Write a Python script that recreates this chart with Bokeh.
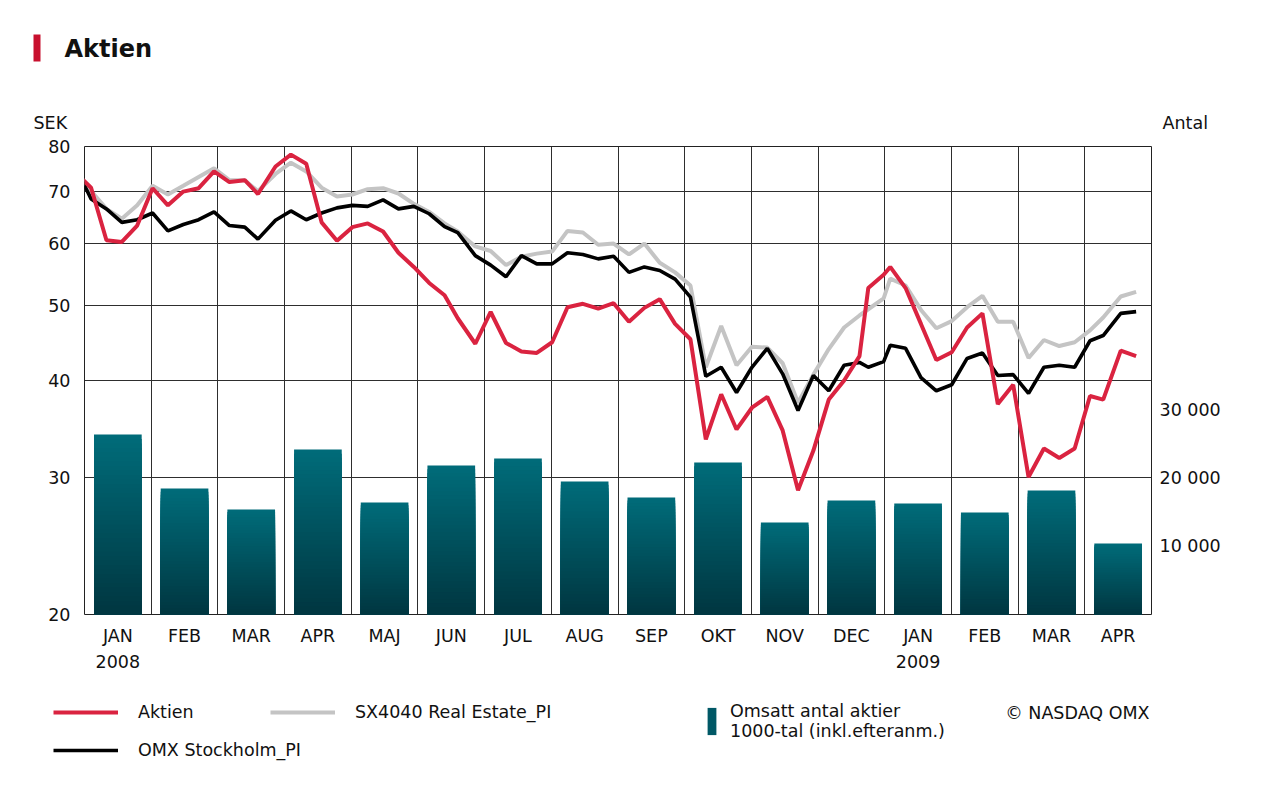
import numpy as np
import pandas as pd
from bokeh.plotting import figure
from bokeh.layouts import column
from bokeh.models import (Range1d, LinearAxis, LinearScale, FixedTicker, Label,
                          Legend, LegendItem, BoxAnnotation)
from bokeh.embed import file_html
from bokeh.resources import INLINE

# ---------------- data ----------------
dates = [
    "2007-12-31", "2008-01-04", "2008-01-11", "2008-01-18", "2008-01-25",
    "2008-02-01", "2008-02-08", "2008-02-15", "2008-02-22", "2008-02-29",
    "2008-03-07", "2008-03-14", "2008-03-20", "2008-03-28",
    "2008-04-04", "2008-04-11", "2008-04-18", "2008-04-25",
    "2008-05-02", "2008-05-09", "2008-05-16", "2008-05-23", "2008-05-30",
    "2008-06-06", "2008-06-13", "2008-06-19", "2008-06-27",
    "2008-07-04", "2008-07-11", "2008-07-18", "2008-07-25",
    "2008-08-01", "2008-08-08", "2008-08-15", "2008-08-22", "2008-08-29",
    "2008-09-05", "2008-09-12", "2008-09-19", "2008-09-26",
    "2008-10-03", "2008-10-10", "2008-10-17", "2008-10-24", "2008-10-31",
    "2008-11-07", "2008-11-14", "2008-11-21", "2008-11-28",
    "2008-12-05", "2008-12-12", "2008-12-19", "2008-12-23", "2008-12-30",
    "2009-01-02", "2009-01-09", "2009-01-16", "2009-01-23", "2009-01-30",
    "2009-02-06", "2009-02-13", "2009-02-20", "2009-02-27",
    "2009-03-06", "2009-03-13", "2009-03-20", "2009-03-27",
    "2009-04-03", "2009-04-09", "2009-04-17", "2009-04-24",
]

aktien = [
    72.6, 70.8, 60.6, 60.3, 63.3,
    70.7, 67.2, 70.0, 70.7, 74.3,
    72.0, 72.4, 69.5, 75.4,
    78.1, 76.0, 63.9, 60.5,
    63.0, 63.7, 62.2, 58.4, 56.0,
    53.4, 51.5, 48.1, 44.6,
    49.0, 44.7, 43.6, 43.4,
    44.8, 49.7, 50.2, 49.5, 50.3,
    47.6, 49.6, 50.9, 47.3,
    45.2, 33.6, 38.4, 34.6, 36.9,
    38.1, 34.5, 28.9, 32.5,
    37.8, 40.0, 43.0, 52.6, 54.7,
    56.0, 52.6, 47.3, 42.5, 43.5,
    46.8, 48.8, 37.3, 39.5,
    30.05, 32.7, 31.8, 32.7,
    38.2, 37.8, 43.7, 43.0,
]

sx4040 = [
    72.6, 70.1, 66.5, 64.6, 67.2,
    71.2, 69.4, 71.2, 73.1, 75.0,
    72.4, 72.4, 70.1, 73.75,
    76.25, 74.3, 70.8, 69.0,
    69.4, 70.5, 70.7, 69.6, 67.5,
    65.9, 63.7, 62.2, 59.5,
    58.7, 56.3, 57.7, 58.25,
    58.6, 62.3, 62.0, 59.8, 60.0,
    58.1, 60.0, 56.7, 55.1,
    53.0, 41.6, 47.0, 41.85, 44.2,
    44.1, 42.1, 37.45, 40.7,
    43.9, 46.8, 48.5, 49.4, 51.0,
    54.1, 53.0, 49.3, 46.7, 47.7,
    49.7, 51.4, 47.6, 47.6,
    42.75, 45.1, 44.3, 44.8,
    46.4, 48.2, 51.3, 52.0,
]

omx = [
    72.2, 68.5, 66.5, 63.9, 64.4,
    65.7, 62.3, 63.5, 64.4, 65.9,
    63.3, 63.0, 60.8, 64.3,
    66.1, 64.4, 65.7, 66.7,
    67.2, 67.0, 68.3, 66.5, 67.0,
    65.55, 63.1, 62.0, 57.9,
    56.3, 54.4, 57.9, 56.5,
    56.5, 58.4, 58.1, 57.35, 57.8,
    55.1, 56.0, 55.4, 54.0,
    51.2, 40.5, 41.6, 38.6, 41.6,
    44.0, 40.8, 36.6, 40.6,
    38.8, 41.85, 42.2, 41.6, 42.3,
    44.4, 44.0, 40.35, 38.8, 39.5,
    42.7, 43.4, 40.6, 40.7,
    38.5, 41.6, 41.85, 41.6,
    45.0, 45.7, 48.8, 49.05,
]

months = ["JAN", "FEB", "MAR", "APR", "MAJ", "JUN", "JUL", "AUG",
          "SEP", "OKT", "NOV", "DEC", "JAN", "FEB", "MAR", "APR"]
years = ["2008", "2009"]
year_month_index = [0, 12]

# monthly traded shares (thousands)
volume = [26350, 18440, 15370, 24150, 16400, 21810, 22840, 19470,
          17130, 22250, 13470, 16690, 16250, 14930, 18150, 10390]

left_ticks = [20, 30, 40, 50, 60, 70, 80]
right_ticks = [10000, 20000, 30000]
right_labels = ["10 000", "20 000", "30 000"]

# ---------------- style / layout ----------------
FONT = "DejaVu Sans"
FS = "17.5px"
TXT = "#111111"
RED = "#DA2340"
GRAY = "#C4C4C4"
BLACK = "#000000"
GRID = "#2e2e2e"
TEAL_MID = "#005866"

W = 1278
HEAD_H = 134          # header strip (title, unit labels)
MAIN_BOTTOM = 690     # page y where legend strip starts
LEG_H = 800 - MAIN_BOTTOM
L, R, T, B = 84, 1151, 146, 614   # plot frame in page pixels
NM = len(months)
VOL_MAX = 68500

t0 = pd.Timestamp("2008-01-01")
t1 = pd.Timestamp("2009-05-01")
span = (t1 - t0).days
xs = np.asarray((pd.to_datetime(dates) - t0).days, dtype=float) / span * NM

# ---------------- main chart ----------------
p = figure(width=W, height=MAIN_BOTTOM - HEAD_H, x_range=Range1d(0, NM),
           y_range=Range1d(20, 80), y_axis_type="log", output_backend="svg",
           toolbar_location=None, min_border_left=L, min_border_right=W - R,
           min_border_top=T - HEAD_H, min_border_bottom=MAIN_BOTTOM - B)
p.frame_align = False
p.background_fill_color = "white"
p.border_fill_color = "white"
p.outline_line_color = "#222222"
p.outline_line_width = 1

p.extra_y_ranges = {"vol": Range1d(0, VOL_MAX)}
p.extra_y_scales = {"vol": LinearScale()}

p.xgrid.ticker = FixedTicker(ticks=list(range(NM + 1)))
p.ygrid.ticker = FixedTicker(ticks=left_ticks)
for g in (p.xgrid[0], p.ygrid[0]):
    g.grid_line_color = GRID
    g.grid_line_width = 1


def style_axis(ax, standoff):
    ax.axis_line_color = None
    ax.major_tick_line_color = None
    ax.minor_tick_line_color = None
    ax.major_tick_out = 0
    ax.major_tick_in = 0
    ax.minor_tick_out = 0
    ax.minor_tick_in = 0
    ax.major_label_text_font = FONT
    ax.major_label_text_font_size = FS
    ax.major_label_text_color = TXT
    ax.major_label_standoff = standoff


ly = p.yaxis[0]
ly.ticker = FixedTicker(ticks=left_ticks)
ly.major_label_overrides = {v: str(v) for v in left_ticks}
style_axis(ly, 14)

bx = p.xaxis[0]
bx.ticker = FixedTicker(ticks=[i + 0.5 for i in range(NM)])
bx.major_label_overrides = {i + 0.5: m for i, m in enumerate(months)}
style_axis(bx, 11)

yr_ax = LinearAxis(ticker=FixedTicker(ticks=[i + 0.5 for i in year_month_index]),
                   major_label_overrides={i + 0.5: y for i, y in zip(year_month_index, years)})
style_axis(yr_ax, 6)
p.add_layout(yr_ax, "below")

ry = LinearAxis(y_range_name="vol", ticker=FixedTicker(ticks=right_ticks),
                major_label_overrides=dict(zip(right_ticks, right_labels)))
style_axis(ry, 8)
p.add_layout(ry, "right")

# bars with a vertical gradient (stacked, progressively shorter and darker)
N = 40
top_c = np.array([0, 108, 122])
bot_c = np.array([0, 54, 64])
bar_x, bar_top, bar_col = [], [], []
for j in range(N):
    f = 1 - j / N
    c = bot_c + (top_c - bot_c) * (f - 0.5 / N)
    col = "#%02x%02x%02x" % tuple(int(round(k)) for k in c)
    for i, v in enumerate(volume):
        bar_x.append(i + 0.5)
        bar_top.append(v * f)
        bar_col.append(col)
p.vbar(x=bar_x, bottom=0, top=bar_top, width=0.715, fill_color=bar_col,
       line_color=None, y_range_name="vol")

p.line(xs, sx4040, line_color=GRAY, line_width=4)
p.line(xs, omx, line_color=BLACK, line_width=3.6)
p.line(xs, aktien, line_color=RED, line_width=4)

# ---------------- header strip ----------------
head = figure(width=W, height=HEAD_H, x_range=Range1d(0, W), y_range=Range1d(HEAD_H, 0),
              output_backend="svg", toolbar_location=None, min_border=0,
              x_axis_location=None, y_axis_location=None)
head.frame_align = False
head.grid.visible = False
head.outline_line_color = None


def add_text(fig, x, y, text, align="left", size=FS, style="normal"):
    fig.add_layout(Label(x=x, y=y, text=text, text_align=align, text_baseline="middle",
                         text_font=FONT, text_font_size=size, text_font_style=style,
                         text_color=TXT))


head.add_layout(BoxAnnotation(left=33, right=40, top=34, bottom=61,
                              fill_color="#C8102E", fill_alpha=1, line_color=None))
add_text(head, 64, 48, "Aktien", size="24px", style="bold")
add_text(head, 33, 122, "SEK")
add_text(head, 1162, 122, "Antal")

# ---------------- legend strip ----------------
leg = figure(width=W, height=LEG_H, x_range=Range1d(0, W), y_range=Range1d(LEG_H, 0),
             output_backend="svg", toolbar_location=None, min_border=0,
             x_axis_location=None, y_axis_location=None)
leg.frame_align = False
leg.grid.visible = False
leg.outline_line_color = None

nan = [float("nan")]
g_red = leg.line(x=nan, y=nan, line_color=RED, line_width=4)
g_gray = leg.line(x=nan, y=nan, line_color=GRAY, line_width=4)
g_black = leg.line(x=nan, y=nan, line_color=BLACK, line_width=3.6)
g_bar = leg.vbar(x=nan, top=nan, width=1, fill_color=TEAL_MID, line_color=None)


def add_legend(label, renderer, x, bottom_from_top, gw=65, gh=20, standoff=20):
    lg = Legend(items=[LegendItem(label=label, renderers=[renderer])],
                location=(x, LEG_H - bottom_from_top), orientation="vertical",
                padding=0, margin=0, spacing=0, glyph_width=gw, glyph_height=gh,
                label_standoff=standoff, label_text_font=FONT,
                label_text_font_size=FS, label_text_color=TXT,
                label_text_line_height=1.5, label_height=gh,
                border_line_alpha=0, background_fill_alpha=0)
    leg.add_layout(lg, "center")


add_legend("Aktien", g_red, 53, 712 - MAIN_BOTTOM + 10)
add_legend("SX4040 Real Estate_PI", g_gray, 270, 712 - MAIN_BOTTOM + 10)
add_legend("OMX Stockholm_PI", g_black, 53, 750 - MAIN_BOTTOM + 10)
add_legend("Omsatt antal aktier\n1000-tal (inkl.efteranm.)", g_bar, 706,
           741 - MAIN_BOTTOM, gw=11, gh=34, standoff=13)
add_text(leg, 1149, 712 - MAIN_BOTTOM, "© NASDAQ OMX", align="right")

layout = column(head, p, leg, spacing=0)
open("out.html", "w").write(file_html(layout, INLINE))
